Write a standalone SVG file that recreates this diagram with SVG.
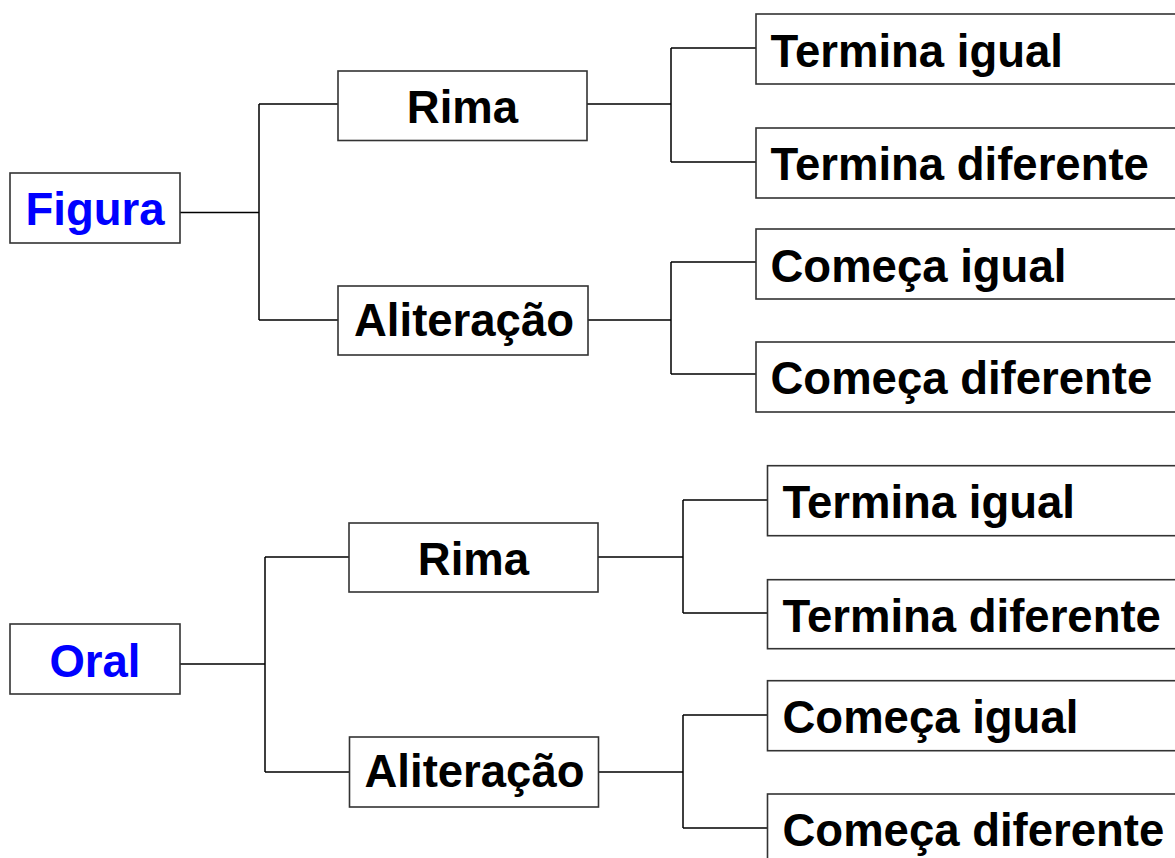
<svg xmlns="http://www.w3.org/2000/svg" width="1175" height="858" viewBox="0 0 1175 858">
<style>
.box{fill:#fff;stroke:#333;stroke-width:1.6}
.t{font-family:"Liberation Sans",Arial,sans-serif;font-weight:bold;font-size:45.5px;fill:#000}
.c{text-anchor:middle}
.root{fill:#0000ff}
.con{fill:none;stroke:#000;stroke-width:1.5}
</style>
<rect width="1175" height="858" fill="#fff"/>
<g id="connectors">
<path class="con" d="M180 212.5H259M259 104V320M259 104H338M259 320H338"/>
<path class="con" d="M587 104H671M671 48V162M671 48H756M671 162H756"/>
<path class="con" d="M588 320H671M671 262V374M671 262H756M671 374H756"/>
<path class="con" d="M180 664H265M265 557V772M265 557H349M265 772H349"/>
<path class="con" d="M598 557H683M683 500V613M683 500H767.5M683 613H767.5"/>
<path class="con" d="M598 772H683M683 715V828M683 715H767.5M683 828H767.5"/>
</g>
<g id="figura"><rect class="box" x="10" y="173" width="170" height="70"/><text class="t c root" x="95" y="225">Figura</text></g>
<g id="rima1"><rect class="box" x="338" y="71" width="249" height="69.5"/><text class="t c" x="462.5" y="123">Rima</text></g>
<g id="alit1"><rect class="box" x="338" y="286" width="250" height="69"/><text class="t c" x="464" y="336">Aliteração</text></g>
<g id="ti1"><rect class="box" x="756" y="14" width="450" height="70"/><text class="t" x="770.5" y="67">Termina igual</text></g>
<g id="td1"><rect class="box" x="756" y="128" width="450" height="70"/><text class="t" x="770.5" y="180">Termina diferente</text></g>
<g id="ci1"><rect class="box" x="756" y="229" width="450" height="70"/><text class="t" x="770.5" y="281.5">Começa igual</text></g>
<g id="cd1"><rect class="box" x="756" y="342" width="450" height="70"/><text class="t" x="770.5" y="394">Começa diferente</text></g>
<g id="oral"><rect class="box" x="10" y="624" width="170" height="70"/><text class="t c root" x="95" y="676.5">Oral</text></g>
<g id="rima2"><rect class="box" x="349" y="523" width="249" height="69"/><text class="t c" x="473.5" y="575">Rima</text></g>
<g id="alit2"><rect class="box" x="349.5" y="737" width="249" height="70"/><text class="t c" x="474.5" y="787">Aliteração</text></g>
<g id="ti2"><rect class="box" x="767.5" y="465.7" width="450" height="70"/><text class="t" x="782.5" y="518.3">Termina igual</text></g>
<g id="td2"><rect class="box" x="767.5" y="579.7" width="450" height="69"/><text class="t" x="782.5" y="631.5">Termina diferente</text></g>
<g id="ci2"><rect class="box" x="767.5" y="680.7" width="450" height="70"/><text class="t" x="782.5" y="732.5">Começa igual</text></g>
<g id="cd2"><rect class="box" x="767.5" y="794" width="450" height="70"/><text class="t" x="782.5" y="846">Começa diferente</text></g>
</svg>
